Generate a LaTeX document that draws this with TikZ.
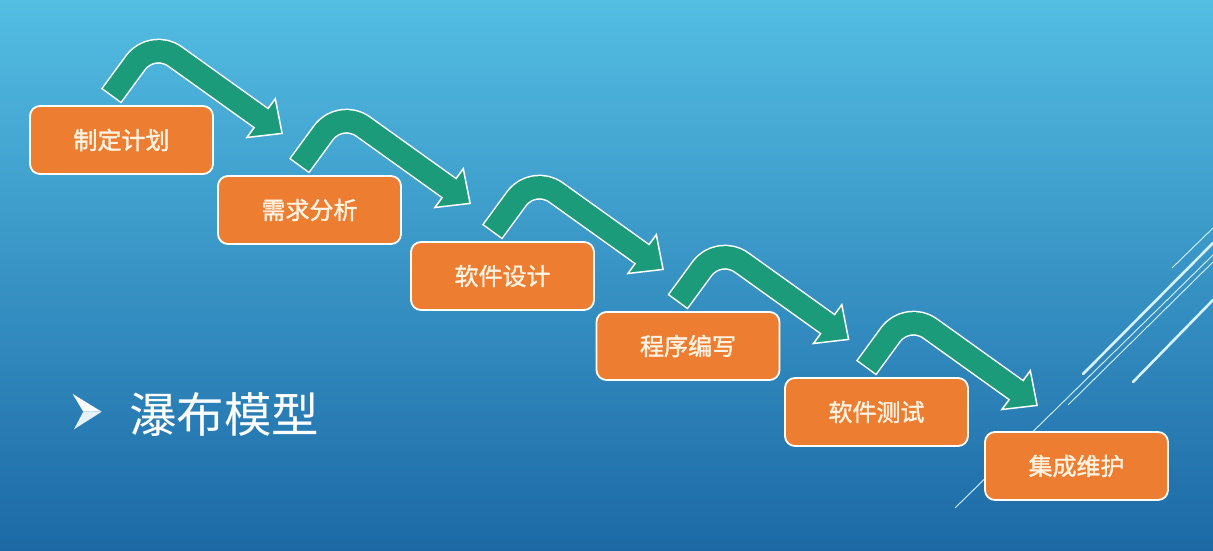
\documentclass[tikz,border=0pt]{standalone}
\usepackage{fontspec}
\newfontfamily\cjk{Noto Sans CJK SC}
\newfontfamily\cjkbox[FakeBold=1.6]{Noto Sans CJK SC}
\usetikzlibrary{calc}
\definecolor{bgtop}{HTML}{53BDE2}
\definecolor{bgmid}{HTML}{3192C8}
\definecolor{bgbot}{HTML}{1C69A6}
\definecolor{boxorange}{HTML}{ED7D31}
\definecolor{boxtext}{HTML}{FFF2E0}
\definecolor{arrowgreen}{HTML}{1C9B7B}
\definecolor{decoline}{HTML}{D6F3FF}
\tikzset{
  stepbox/.style={draw=white, line width=1.8pt, fill=boxorange, rounded corners=10pt,
    minimum width=183pt, minimum height=68pt, inner sep=0pt, text=boxtext,
    font=\cjkbox\fontsize{24}{24}\selectfont},
  arrowline/.style={rounded corners=28pt, line cap=butt, line join=round},
  headstyle/.style={fill=arrowgreen, draw=white, line width=1.5pt, line join=miter},
  thinline/.style={draw=decoline, line width=0.9pt},
  thickline/.style={draw=decoline, line width=2.6pt, line cap=round},
}
\begin{document}
\begin{tikzpicture}[x=1pt,y=-1pt]
\useasboundingbox (0,0) rectangle (1213,551);
\shade[top color=bgtop, middle color=bgmid, bottom color=bgbot] (0,0) rectangle (1213,551);

% decorative lines
\coordinate (la1) at (1172,268); \coordinate (la2) at (1213,228);
\coordinate (lb1) at (1083,374); \coordinate (lb2) at (1213,243);
\coordinate (lc1) at (1068,405); \coordinate (lc2) at (1213,262);
\coordinate (ld1) at (955,508);  \coordinate (ld2) at (1213,255);
\coordinate (le1) at (1133,382); \coordinate (le2) at (1213,300);
\draw[thinline] (la1) -- (la2);
\draw[thinline] (lc1) -- (lc2);
\draw[thinline] (ld1) -- (ld2);
\draw[thickline] (lb1) -- (lb2);
\draw[thickline] (le1) -- (le2);

% title with bullet
\coordinate (bu1) at (72.7,394);
\coordinate (bu2) at (101.7,411.7);
\coordinate (bu3) at (74,429.3);
\coordinate (bu4) at (83.3,411.7);
\fill[white] (bu1) -- (bu2) -- (bu4) -- cycle;
\fill[white!88!bgmid] (bu4) -- (bu2) -- (bu3) -- cycle;
\node[text=white, font=\cjk\fontsize{47.5}{47.5}\selectfont, anchor=center] (title) at (224,414) {瀑布模型};

% step boxes
\node[stepbox] (b1) at (121.5,140) {制定计划};
\node[stepbox] (b2) at (309.5,210) {需求分析};
\node[stepbox] (b3) at (502.5,276) {软件设计};
\node[stepbox] (b4) at (688,346) {程序编写};
\node[stepbox] (b5) at (876.5,412) {软件测试};
\node[stepbox] (b6) at (1076.5,466) {集成维护};

% bent arrows
\foreach \i in {1,...,5}{
  \begin{scope}[shift={($(b\i.north west)+(82,-9)$)}]
    \coordinate (t\i) at (0,0);
    \coordinate (k\i) at (41,-56);
    \coordinate (h\i) at (150,22);
    \coordinate (wa\i) at (164.2,2.6);
    \coordinate (p\i) at (171,37.3);
    \coordinate (wb\i) at (135.8,41.4);
  \end{scope}
  \draw[arrowline, white, line width=25pt] (t\i) -- (k\i) -- (h\i);
  \filldraw[headstyle] (wa\i) -- (p\i) -- (wb\i) -- cycle;
  \draw[arrowline, arrowgreen, line width=22pt] ($(t\i)!1.5pt!(k\i)$) -- (k\i) -- ($(h\i)!-2.5pt!(k\i)$);
}
\end{tikzpicture}
\end{document}
